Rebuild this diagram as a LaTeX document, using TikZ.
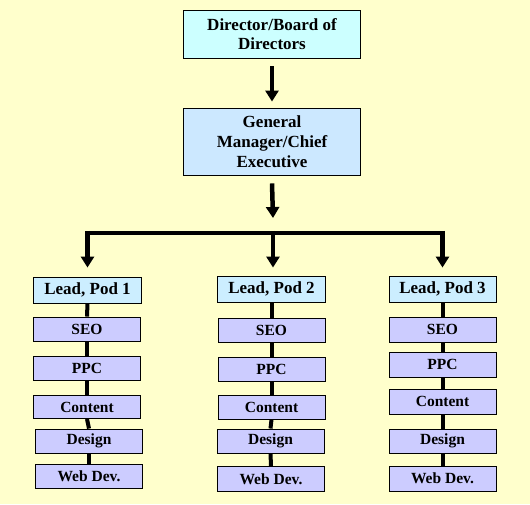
\documentclass[tikz,border=0pt]{standalone}
\usepackage{fontspec}
\setmainfont{Liberation Serif}
\usetikzlibrary{arrows.meta}
\definecolor{bg}{HTML}{FFFFCC}
\definecolor{topc}{HTML}{CCFFFF}
\definecolor{gmc}{HTML}{CCE8FF}
\definecolor{leadc}{HTML}{CCEEFF}
\definecolor{staffc}{HTML}{CCCCFF}
\tikzset{
  x=1pt,y=1pt,
  box/.style={draw=black,line width=0.9pt,inner sep=1pt,align=center,font=\bfseries},
  topbox/.style={box,fill=topc,minimum width=177pt,minimum height=48pt,font=\bfseries\fontsize{17}{19.5}\selectfont},
  gmbox/.style={box,fill=gmc,minimum width=177pt,minimum height=67pt,font=\bfseries\fontsize{17}{20}\selectfont},
  leadbox/.style={box,fill=leadc,minimum width=108pt,minimum height=26pt,font=\bfseries\fontsize{17}{19}\selectfont},
  staffbox/.style={box,fill=staffc,minimum width=107pt,minimum height=24pt,font=\bfseries\fontsize{15.5}{17}\selectfont},
  arr/.style={line width=4.5pt,-{Triangle[width=13pt,length=11pt]}},
  bar/.style={line width=4.5pt},
  link/.style={line width=4pt}
}
\begin{document}
\begin{tikzpicture}
\fill[bg] (0,0) rectangle (530,-504);
\useasboundingbox (0,0) rectangle (530,-504);

\node[topbox] (top) at (272,-34) {Director/Board of\\Directors};
\node[gmbox] (gm) at (272,-141.5) {General\\Manager/Chief\\Executive};

% pod 1
\node[leadbox] (l1) at (87.5,-290) {Lead, Pod 1};
\node[staffbox] (s1) at (87,-329) {SEO};
\node[staffbox] (p1) at (87,-368.5) {PPC};
\node[staffbox,minimum height=23pt] (c1) at (87,-407) {Content};
\node[staffbox] (d1) at (89,-441) {Design};
\node[staffbox] (w1) at (89,-476) {Web Dev.};
% pod 2
\node[leadbox] (l2) at (271.5,-289) {Lead, Pod 2};
\node[staffbox] (s2) at (271.5,-330) {SEO};
\node[staffbox] (p2) at (271.5,-369) {PPC};
\node[staffbox] (c2) at (271.5,-407) {Content};
\node[staffbox] (d2) at (270.5,-441) {Design};
\node[staffbox,minimum height=25pt] (w2) at (271,-479) {Web Dev.};
% pod 3
\node[leadbox,minimum width=107pt] (l3) at (442.5,-289) {Lead, Pod 3};
\node[staffbox,minimum height=25pt] (s3) at (442.5,-329.5) {SEO};
\node[staffbox,minimum height=25pt] (p3) at (442.5,-364.5) {PPC};
\node[staffbox,minimum height=25pt] (c3) at (442.5,-401.5) {Content};
\node[staffbox] (d3) at (442.5,-441) {Design};
\node[staffbox,minimum height=25pt] (w3) at (442.5,-478.5) {Web Dev.};

% links within pods
\foreach \a/\b in {l1/s1,s1/p1,p1/c1,c1/d1,d1/w1,l2/s2,s2/p2,p2/c2,c2/d2,d2/w2,l3/s3,s3/p3,p3/c3,c3/d3,d3/w3}
  \draw[link] (\a.south) -- (\b.north);

% arrows
\draw[arr] ([yshift=-8pt]top.south) -- ([yshift=6pt]gm.north);
\coordinate (bj) at (273,-233);
\draw[arr] ([yshift=-8pt]gm.south) -- ([yshift=15pt]bj);
\draw[bar] ([xshift=-2.25pt]l1.north |- bj) -- ([xshift=2.25pt]l3.north |- bj);
\draw[arr] ([yshift=2.25pt]l1.north |- bj) -- ([yshift=9pt]l1.north);
\draw[arr] ([yshift=2.25pt]bj) -- ([yshift=8pt]l2.north -| bj);
\draw[arr] ([yshift=2.25pt]l3.north |- bj) -- ([yshift=8pt]l3.north);
\end{tikzpicture}
\end{document}
